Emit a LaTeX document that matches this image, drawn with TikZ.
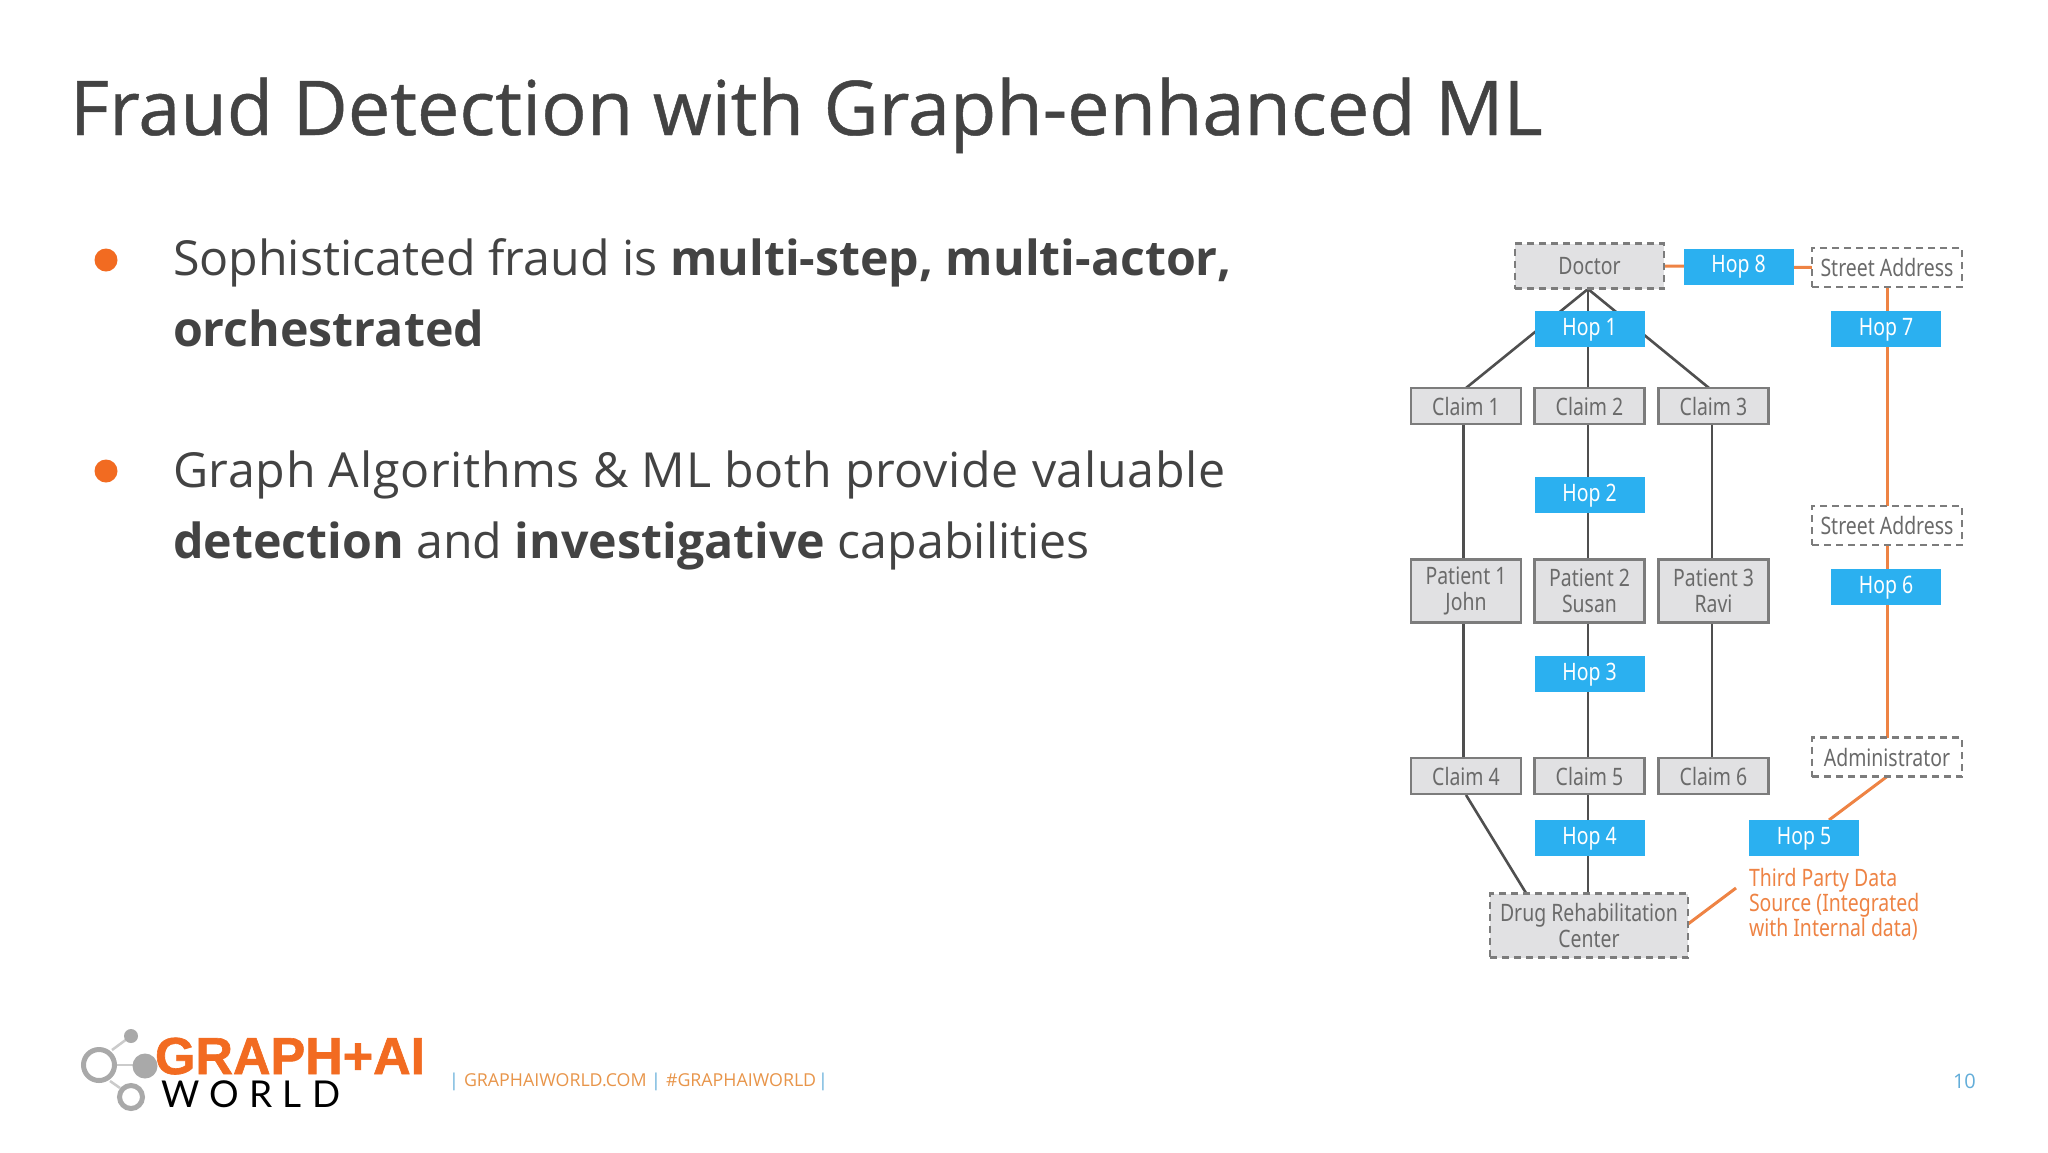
\documentclass[tikz,border=0pt]{standalone}
\usepackage{fontspec}
\setmainfont{Open Sans}
\newfontfamily\slidefont{Open Sans}
\newfontfamily\titlefont[FakeBold=0.6]{Open Sans}
\newfontfamily\diagfont[FakeStretch=0.81]{Noto Sans}
\newfontfamily\logofont[FakeBold=1.2]{Liberation Sans}
\newfontfamily\worldfont[LetterSpace=28]{Lato}
\definecolor{ink}{HTML}{434343}
\definecolor{orangeA}{HTML}{F26B21}
\definecolor{orangeL}{HTML}{EE8344}
\definecolor{hopblue}{HTML}{2BB0F0}
\definecolor{boxgray}{HTML}{E1E1E3}
\definecolor{boxline}{HTML}{7C7C7C}
\definecolor{wire}{HTML}{4F4F4F}
\definecolor{diagtext}{HTML}{6A6A6A}
\definecolor{logogray}{HTML}{A9A9A9}
\definecolor{footblue}{HTML}{62ADD9}
\definecolor{footorange}{HTML}{E8954A}
\pgfdeclarelayer{wires}
\pgfsetlayers{wires,main}
\tikzset{
  x=1pt,y=-1pt,
  every node/.style={inner sep=0pt,outer sep=0pt},
  diag/.style={font=\diagfont\fontsize{24}{26}\selectfont,align=center,text=diagtext},
  hopbox/.style={diag,fill=hopblue,text=white,minimum width=110pt,minimum height=36pt,text height=17pt,text depth=5pt},
  claimbox/.style={diag,fill=boxgray,draw=boxline,line width=2.6pt,minimum width=110pt,minimum height=36pt},
  patientbox/.style={claimbox,minimum height=63pt},
  dashbox/.style={diag,draw=boxline,line width=2.6pt,dash pattern=on 7pt off 5pt},
  dashfill/.style={dashbox,fill=boxgray},
  blackwire/.style={draw=wire,line width=2.6pt},
  orangewire/.style={draw=orangeL,line width=3pt},
  bullettext/.style={anchor=base west,text=ink,font=\slidefont\fontsize{48.3}{56}\selectfont},
  bulletdot/.style={circle,fill=orangeA,minimum size=23pt},
  foot/.style={anchor=base west,font=\slidefont\fontsize{17.8}{20}\selectfont},
  logoring/.style={draw=logogray,line width=5pt,circle},
  logodot/.style={fill=logogray,circle},
}
\begin{document}
\begin{tikzpicture}
\useasboundingbox (0,0) rectangle (2048,1152);
\begin{pgfonlayer}{wires}\fill[white] (0,0) rectangle (2048,1152);\end{pgfonlayer}

% title and bullets
\node[anchor=base west,text=ink,font=\titlefont\fontsize{75.6}{84}\selectfont] (title) at (70,135) {Fraud Detection with Graph-enhanced ML};
\node[bulletdot] (b1) at (106,260) {};
\node[bulletdot] (b2) at (106,471) {};
\node[bullettext] (t1) at (173,275) {Sophisticated fraud is \textbf{multi-step, multi-actor,}};
\node[bullettext] (t2) at (173,346) {\textbf{orchestrated}};
\node[bullettext] (t3) at (173,487) {\addfontfeature{LetterSpace=1.4}Graph Algorithms \& ML both provide valuable};
\node[bullettext] (t4) at (173,558) {\textbf{detection} and \textbf{investigative} capabilities};

% diagram nodes
\node[dashfill,minimum width=149pt,minimum height=45pt] (doctor) at (1589.5,266) {Doctor};
\node[hopbox] (hop8) at (1738.5,266.5) {Hop 8};
\node[dashbox,fill=white,minimum width=150pt,minimum height=39pt] (street1) at (1887,267.5) {Street Address};
\node[hopbox] (hop1) at (1589.5,329) {Hop 1};
\node[hopbox] (hop7) at (1886,329) {Hop 7};
\node[claimbox] (c1) at (1466,406) {Claim 1};
\node[claimbox] (c2) at (1589.5,406) {Claim 2};
\node[claimbox] (c3) at (1713.5,406) {Claim 3};
\node[hopbox] (hop2) at (1589.5,495) {Hop 2};
\node[patientbox] (p1) at (1466,591) {Patient 1\\John};
\node[patientbox] (p2) at (1589.5,591) {Patient 2\\Susan};
\node[patientbox] (p3) at (1713.5,591) {Patient 3\\Ravi};
\node[dashbox,fill=white,minimum width=150pt,minimum height=39pt] (street2) at (1887,525.5) {Street Address};
\node[hopbox] (hop6) at (1886,587) {Hop 6};
\node[hopbox] (hop3) at (1589.5,674) {Hop 3};
\node[dashbox,fill=white,minimum width=150pt,minimum height=39pt] (admin) at (1887,757) {Administrator};
\node[claimbox] (c4) at (1466,776) {Claim 4};
\node[claimbox] (c5) at (1589.5,776) {Claim 5};
\node[claimbox] (c6) at (1713.5,776) {Claim 6};
\node[hopbox] (hop4) at (1589.5,838) {Hop 4};
\node[hopbox] (hop5) at (1804,838) {Hop 5};
\node[dashfill,minimum width=198pt,minimum height=64pt] (drug) at (1589,925.5) {Drug Rehabilitation\\Center};
\node[diag,anchor=north west,align=left,text=orangeL,font=\diagfont\fontsize{24}{25}\selectfont] (third) at (1749,868) {Third Party Data\\Source (Integrated\\with Internal data)};

% free connector ends
\coordinate (apex) at (1588,289);
\coordinate (c1top) at (1466,388);
\coordinate (c3top) at (1709,388);
\coordinate (c4foot) at (1466,795);
\coordinate (drugtop) at (1526,893);
\coordinate (hop5top) at (1829,820);
\coordinate (thirdend) at (1736,888);
\coordinate (drugside) at (1688,924);

\begin{pgfonlayer}{wires}
\draw[blackwire] (apex) -- (c1top);
\draw[blackwire] (apex) -- (c3top);
\draw[blackwire] (apex) -- ([xshift=-1.5pt]c2.north);
\draw[blackwire] ([xshift=-2.5pt]c1.south) -- ([xshift=-2.5pt]p1.north);
\draw[blackwire] ([xshift=-1.5pt]c2.south) -- ([xshift=-1.5pt]p2.north);
\draw[blackwire] ([xshift=-1.5pt]c3.south) -- ([xshift=-1.5pt]p3.north);
\draw[blackwire] ([xshift=-2.5pt]p1.south) -- ([xshift=-2.5pt]c4.north);
\draw[blackwire] ([xshift=-1.5pt]p2.south) -- ([xshift=-1.5pt]c5.north);
\draw[blackwire] ([xshift=-1.5pt]p3.south) -- ([xshift=-1.5pt]c6.north);
\draw[blackwire] ([xshift=-1.5pt]c5.south) -- ([xshift=-1pt]drug.north);
\draw[blackwire] (c4foot) -- (drugtop);
\draw[orangewire] (doctor.east) -- (street1.west);
\draw[orangewire] (street1.south) -- (street2.north);
\draw[orangewire] (street2.south) -- (admin.north);
\draw[orangewire] (admin.south) -- (hop5top);
\draw[orangewire] (drugside) -- (thirdend);
\end{pgfonlayer}

% logo
\draw[draw=logogray!60,line width=2.5pt] (112,1050) -- (131,1036);
\draw[draw=logogray!60,line width=2.5pt] (114,1065) -- (145,1065);
\draw[draw=logogray!60,line width=2.5pt] (110,1081) -- (120,1088);
\node[logoring,minimum size=31pt,fill=white] (ring1) at (99,1065) {};
\node[logoring,minimum size=23pt,fill=white] (ring2) at (131,1097) {};
\node[logodot,minimum size=14pt] (dot1) at (131,1036) {};
\node[logodot,minimum size=25pt] (dot2) at (145,1066) {};
\node[anchor=base west,text=orangeA,font=\logofont\bfseries\fontsize{52}{55}\selectfont] (logoA) at (155,1074) {GRAPH+AI};
\node[anchor=base west,text=black,font=\worldfont\fontsize{37}{40}\selectfont] (logoB) at (161,1107) {WORLD};

% footer
\node[foot,text=footblue] (pipe1) at (449,1086) {|};
\node[foot,text=footorange] (foot1) at (464,1086) {GRAPHAIWORLD.COM};
\node[foot,text=footblue] (pipe2) at (651,1086) {|};
\node[foot,text=footorange] (foot2) at (666,1086) {\#GRAPHAIWORLD};
\node[foot,text=footblue] (pipe3) at (818,1086) {|};
\node[foot,text=footblue,font=\slidefont\fontsize{20}{22}\selectfont] (page) at (1953,1088) {10};
\end{tikzpicture}
\end{document}
